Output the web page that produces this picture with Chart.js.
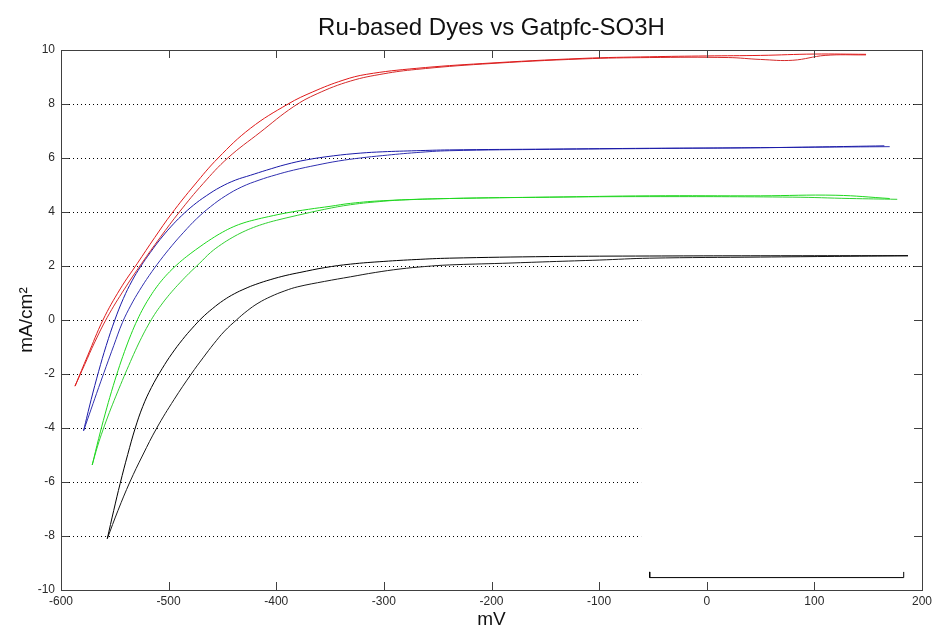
<!DOCTYPE html>
<html>
<head>
<meta charset="utf-8">
<script src="https://cdn.jsdelivr.net/npm/chart.js@4.4.1/dist/chart.umd.min.js"></script>
<style>
  html, body { margin: 0; padding: 0; background: #fff; }
</style>
</head>
<body>
<canvas id="ivChart" width="933" height="635"></canvas>
<script>
// Axis ticks
const xTicks = [-600, -500, -400, -300, -200, -100, 0, 100, 200];
const yTicks = [-10, -8, -6, -4, -2, 0, 2, 4, 6, 8, 10];

// Red dye: two scans (mV / mA per cm2)
const redScanAV = [-587, -575, -561, -545, -529, -513, -497, -476, -454, -424, -389, -366, -338, -316, -270, -208, -115, -53, 0, 50, 100, 148];
const redScanAJ = [-2.45, -1.3, 0.0, 1.15, 2.1, 3.05, 3.95, 5.0, 6.0, 7.1, 8.0, 8.45, 8.88, 9.1, 9.32, 9.5, 9.69, 9.75, 9.78, 9.8, 9.85, 9.84];
const redScanBV = [-587, -578, -569, -557, -541, -525, -508, -490, -468, -445, -415, -384, -362, -331, -300, -270, -208, -115, -53, 20, 50, 80, 110, 148];
const redScanBJ = [-2.45, -1.65, -0.85, 0.1, 1.15, 2.1, 3.05, 4.0, 5.05, 6.0, 6.95, 7.9, 8.38, 8.85, 9.12, 9.28, 9.48, 9.67, 9.72, 9.72, 9.65, 9.62, 9.8, 9.82];

// Blue dye
const blueScanAV = [-579, -572, -565, -558, -550, -542, -534, -526, -517, -508, -498, -488, -477, -465, -452, -438, -424, -409, -391, -372, -347, -322, -301, -270, -239, -146, -53, 50, 165];
const blueScanAJ = [-4.1, -2.95, -1.9, -0.95, 0.0, 0.8, 1.45, 1.98, 2.5, 2.98, 3.45, 3.86, 4.25, 4.6, 4.92, 5.18, 5.36, 5.55, 5.76, 5.93, 6.08, 6.18, 6.23, 6.27, 6.3, 6.33, 6.36, 6.38, 6.45];
const blueScanBV = [-579, -572, -565, -558, -551, -543, -535, -527, -518, -508, -497, -486, -474, -461, -447, -432, -416, -400, -384, -362, -342, -322, -301, -270, -239, -146, -53, 100, 170];
const blueScanBJ = [-4.1, -3.3, -2.5, -1.72, -0.95, -0.1, 0.55, 1.1, 1.65, 2.2, 2.75, 3.25, 3.75, 4.2, 4.6, 4.93, 5.18, 5.38, 5.55, 5.74, 5.89, 6.0, 6.09, 6.2, 6.27, 6.32, 6.35, 6.4, 6.42];

// Green dye
const greenScanAV = [-571, -565, -559, -553, -547, -541, -535, -529, -523, -517, -511, -505, -499, -493, -487, -480, -470, -460, -450, -440, -430, -420, -407, -390, -370, -350, -331, -300, -239, -146, -53, 50, 120, 170];
const greenScanAJ = [-5.37, -4.39, -3.48, -2.64, -1.87, -1.17, -0.54, 0.01, 0.48, 0.88, 1.23, 1.53, 1.79, 2.02, 2.23, 2.45, 2.74, 3.01, 3.25, 3.45, 3.6, 3.71, 3.83, 3.97, 4.1, 4.21, 4.32, 4.42, 4.5, 4.55, 4.6, 4.6, 4.62, 4.5];
const greenScanBV = [-571, -566, -561, -555, -549, -543, -537, -531, -525, -519, -513, -507, -501, -495, -489, -481, -471, -461, -451, -441, -431, -421, -410, -400, -380, -355, -331, -300, -280, -239, -146, -53, 80, 133, 177];
const greenScanBJ = [-5.37, -4.67, -4.07, -3.42, -2.82, -2.24, -1.68, -1.14, -0.64, -0.19, 0.21, 0.55, 0.86, 1.14, 1.4, 1.73, 2.11, 2.5, 2.8, 3.05, 3.26, 3.43, 3.58, 3.69, 3.88, 4.1, 4.27, 4.4, 4.45, 4.5, 4.55, 4.57, 4.55, 4.5, 4.47];

// Black dye
const blackScanAV = [-557, -551, -545, -538, -531, -524, -516, -506, -497, -487, -478, -469, -459, -449, -439, -429, -419, -405, -391, -378, -355, -331, -300, -270, -239, -146, -53, 100, 187];
const blackScanAJ = [-8.1, -7.05, -6.05, -4.98, -4.0, -3.2, -2.5, -1.8, -1.25, -0.72, -0.3, 0.08, 0.43, 0.73, 0.97, 1.16, 1.32, 1.5, 1.65, 1.76, 1.94, 2.07, 2.17, 2.24, 2.29, 2.35, 2.37, 2.38, 2.38];
const blackScanBV = [-557, -547, -536, -524, -511, -495, -479, -468, -458, -448, -437, -427, -417, -405, -392, -380, -355, -331, -308, -285, -262, -239, -190, -146, -100, -53, 50, 187];
const blackScanBJ = [-8.1, -7.05, -6.0, -5.0, -4.0, -2.95, -2.0, -1.4, -0.88, -0.41, 0.0, 0.34, 0.62, 0.87, 1.08, 1.23, 1.43, 1.6, 1.76, 1.89, 1.98, 2.04, 2.1, 2.16, 2.22, 2.29, 2.33, 2.38];

// What is left of the legend box (bottom edge)
const legendEdgeV = [-53, -53, 183, 183];
const legendEdgeJ = [-9.33, -9.54, -9.54, -9.33];
const legendLeftMv = -61;   // grid lines below this current stop at the legend
const legendTopJ = 1;

const toPoints = (v, j) => v.map((x, i) => ({ x: x, y: j[i] }));

function scan(v, j, color) {
    return {
        data: toPoints(v, j),
        borderColor: color,
        borderWidth: 1,
        showLine: true,
        pointRadius: 0,
        tension: 0.4,
        fill: false
    };
}

const datasets = [
    scan(redScanAV, redScanAJ, '#e01a1a'),
    scan(redScanBV, redScanBJ, '#d42a2a'),
    scan(blueScanAV, blueScanAJ, '#1a1aa8'),
    scan(blueScanBV, blueScanBJ, '#3030b0'),
    scan(greenScanAV, greenScanAJ, '#1ed81e'),
    scan(greenScanBV, greenScanBJ, '#30d030'),
    scan(blackScanAV, blackScanAJ, '#000000'),
    scan(blackScanBV, blackScanBJ, '#1a1a1a'),
    { data: toPoints(legendEdgeV, legendEdgeJ), borderColor: '#000', borderWidth: 1, showLine: true, pointRadius: 0, tension: 0 }
];

// MATLAB style frame: dotted grid, box, inward ticks
const matlabAxes = {
    id: 'matlabAxes',
    beforeDatasetsDraw(chart) {
        const { ctx, chartArea: a, scales: { x, y } } = chart;
        ctx.save();
        ctx.strokeStyle = '#000';
        ctx.lineWidth = 1;
        ctx.setLineDash([1, 3]);
        yTicks.forEach(v => {
            if (v === yTicks[0] || v === yTicks[yTicks.length - 1]) return;
            const py = Math.round(y.getPixelForValue(v)) + 0.5;
            const xEnd = v < legendTopJ ? x.getPixelForValue(legendLeftMv) : a.right;
            ctx.beginPath();
            ctx.moveTo(a.left, py);
            ctx.lineTo(xEnd, py);
            ctx.stroke();
        });
        ctx.restore();
    },
    afterDatasetsDraw(chart) {
        const { ctx, chartArea: a, scales: { x, y } } = chart;
        ctx.save();
        ctx.strokeStyle = '#404040';
        ctx.lineWidth = 1;
        ctx.strokeRect(Math.round(a.left) + 0.5, Math.round(a.top) + 0.5, Math.round(a.right - a.left), Math.round(a.bottom - a.top));
        ctx.beginPath();
        xTicks.forEach(v => {
            const px = Math.round(x.getPixelForValue(v)) + 0.5;
            ctx.moveTo(px, a.bottom); ctx.lineTo(px, a.bottom - 8);
            ctx.moveTo(px, a.top); ctx.lineTo(px, a.top + 8);
        });
        yTicks.forEach(v => {
            const py = Math.round(y.getPixelForValue(v)) + 0.5;
            ctx.moveTo(a.left, py); ctx.lineTo(a.left + 8, py);
            ctx.moveTo(a.right, py); ctx.lineTo(a.right - 8, py);
        });
        ctx.stroke();
        ctx.restore();
    }
};

const fontFamily = "'Liberation Sans', Arial, sans-serif";

new Chart(document.getElementById('ivChart').getContext('2d'), {
    type: 'scatter',
    data: { datasets: datasets },
    options: {
        responsive: false,
        animation: false,
        layout: { padding: { left: 0, right: 11, top: 0, bottom: 0 } },
        plugins: {
            legend: { display: false },
            tooltip: { enabled: false },
            title: {
                display: true,
                fullSize: false,
                text: 'Ru-based Dyes vs Gatpfc-SO3H',
                color: '#111',
                font: { family: fontFamily, size: 24, weight: 'normal' },
                padding: { top: 13.6, bottom: 7.6 }
            }
        },
        scales: {
            x: {
                type: 'linear',
                min: -600, max: 200,
                afterBuildTicks: s => { s.ticks = xTicks.map(v => ({ value: v })); },
                afterFit: s => { s.height = 45; s.paddingLeft = 0; s.paddingRight = 0; },
                grid: { display: false, drawTicks: false },
                border: { display: false },
                ticks: { color: '#2a2a2a', padding: 4, maxRotation: 0, font: { family: fontFamily, size: 12 } },
                title: { display: true, text: 'mV', color: '#111', padding: { top: 0, bottom: 3.6 }, font: { family: fontFamily, size: 19 } }
            },
            y: {
                type: 'linear',
                min: -10, max: 10,
                afterBuildTicks: s => { s.ticks = yTicks.map(v => ({ value: v })); },
                afterFit: s => { s.width = 61; s.paddingTop = 0; s.paddingBottom = 0; },
                grid: { display: false, drawTicks: false },
                border: { display: false },
                ticks: { color: '#2a2a2a', padding: 6, font: { family: fontFamily, size: 12 } },
                title: { display: true, text: 'mA/cm²', color: '#111', padding: { top: 15, bottom: 0 }, font: { family: fontFamily, size: 19 } }
            }
        }
    },
    plugins: [matlabAxes]
});
</script>
</body>
</html>
